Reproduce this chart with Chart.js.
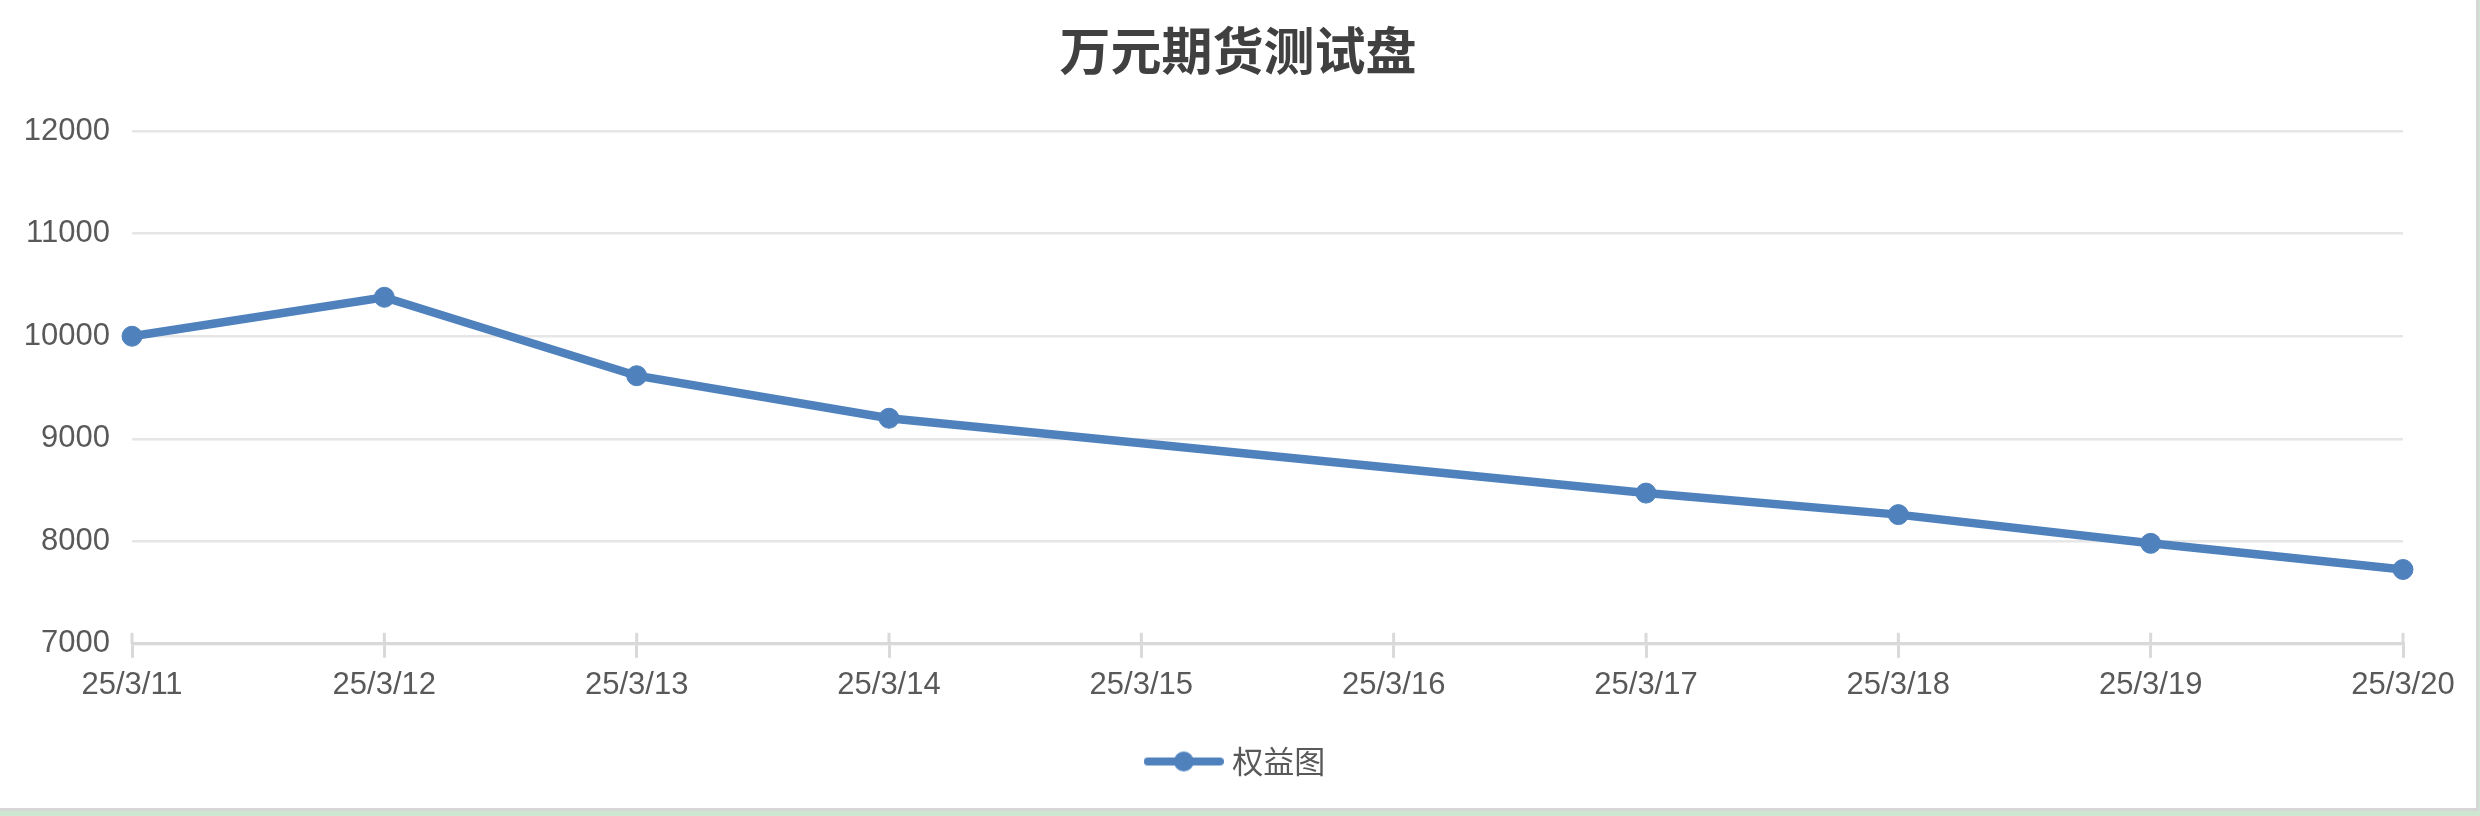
<!DOCTYPE html>
<html>
<head>
<meta charset="utf-8">
<script src="https://cdn.jsdelivr.net/npm/chart.js@4"></script>
<style>
  html,body{margin:0;padding:0;background:#cde6cf;}
  #wrap{position:absolute;left:0;top:0;width:2476px;height:808px;background:#fff;border-right:3px solid #d6d6d6;border-bottom:3px solid #d6d6d6;}
</style>
</head>
<body>
<div id="wrap"><canvas id="equityLine"></canvas></div>
<script>
// 数据
var chartTitle = '万元期货测试盘';
var seriesName = '权益图';
var dayLabels = ['25/3/11','25/3/12','25/3/13','25/3/14','25/3/15','25/3/16','25/3/17','25/3/18','25/3/19','25/3/20'];
var equityValues = [10000, 10380, 9615, 9200, null, null, 8470, 8260, 7980, 7725];
var yTicks = [7000, 8000, 9000, 10000, 11000, 12000];

var blue = '#4f81bd';
var textGray = '#595959';

// 图例: 线 + 圆点
function fnLegendMark(){
	var c = document.createElement('canvas');
	c.width = 80; c.height = 22;
	var g = c.getContext('2d');
	g.strokeStyle = blue; g.lineWidth = 8; g.lineCap = 'round';
	g.beginPath(); g.moveTo(4, 11); g.lineTo(76, 11); g.stroke();
	g.fillStyle = blue;
	g.beginPath(); g.arc(40, 11, 10, 0, Math.PI*2); g.fill();
	return c;
}
var legendMark = fnLegendMark();

// x轴刻度线 (轴线上方的部分)
var upperTicks = {
	id: 'upperTicks',
	beforeDatasetsDraw: function(chart){
		var x = chart.scales.x, ctx = chart.ctx;
		ctx.save();
		ctx.strokeStyle = '#d9d9d9';
		ctx.lineWidth = 3;
		for(var i=0;i<x.ticks.length;i++){
			var px = x.getPixelForTick(i);
			ctx.beginPath(); ctx.moveTo(px, x.top - 11); ctx.lineTo(px, x.top); ctx.stroke();
		}
		ctx.restore();
	}
};

var ctx = document.getElementById('equityLine').getContext('2d');
var lineChart = new Chart(ctx, {
	type: 'line',
	plugins: [upperTicks],
	data: {
		labels: dayLabels,
		datasets: [{
			label: seriesName,
			data: equityValues,
			borderColor: blue,
			backgroundColor: blue,
			borderWidth: 8.5,
			pointRadius: 10,
			pointBorderWidth: 1,
			pointBackgroundColor: blue,
			pointBorderColor: blue,
			spanGaps: true,
			tension: 0,
			clip: false
		}]
	},
	options: {
		responsive: true,
		maintainAspectRatio: false,
		animation: false,
		layout: {padding: {left: 0, right: 0, top: 0, bottom: 21}},
		plugins: {
			title: {
				display: true,
				text: chartTitle,
				color: '#404040',
				font: {family: '"Noto Sans CJK SC"', size: 51, weight: 'bold'},
				padding: {top: 20, bottom: 50}
			},
			legend: {
				position: 'bottom',
				labels: {
					usePointStyle: true,
					pointStyleWidth: 66,
					padding: 33,
					color: textGray,
					font: {family: '"Noto Sans CJK SC"', size: 31},
					generateLabels: function(chart){
						var items = Chart.defaults.plugins.legend.labels.generateLabels(chart);
						items.forEach(function(it){ it.pointStyle = legendMark; });
						return items;
					}
				}
			},
			tooltip: {enabled: false}
		},
		scales: {
			x: {
				afterFit: function(scale){ scale.paddingRight = 73; },
				grid: {drawOnChartArea: false, drawTicks: true, tickLength: 14, color: '#d9d9d9', lineWidth: 3},
				border: {display: true, color: '#d9d9d9', width: 3},
				ticks: {color: textGray, font: {family: '"Liberation Sans"', size: 31}, padding: 9, maxRotation: 0, autoSkip: false}
			},
			y: {
				min: yTicks[0],
				max: yTicks[yTicks.length-1],
				afterBuildTicks: function(scale){
					scale.ticks = yTicks.map(function(v){ return {value: v}; });
				},
				afterFit: function(scale){ scale.width = 132; },
				grid: {color: '#e6e6e6', lineWidth: 2.5, drawTicks: false},
				border: {display: false},
				ticks: {
					color: textGray, font: {family: '"Liberation Sans"', size: 31}, padding: 22,
					callback: function(v){ return String(v); }
				}
			}
		}
	}
});
</script>
</body>
</html>
